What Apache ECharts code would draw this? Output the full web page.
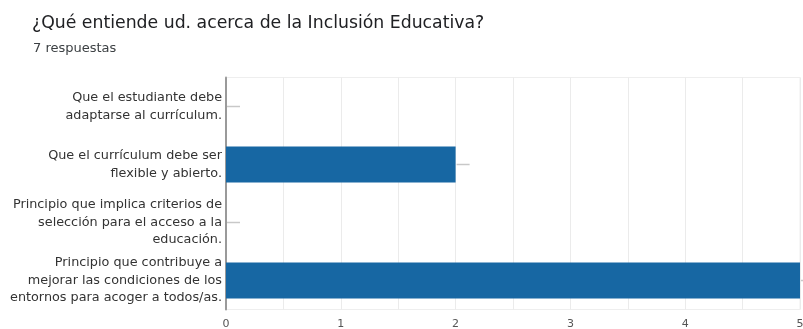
<!DOCTYPE html>
<html>
<head>
<meta charset="utf-8">
<script src="https://cdn.jsdelivr.net/npm/echarts@6/dist/echarts.min.js"></script>
<style>
  html, body { margin: 0; padding: 0; background: #ffffff; }
  #chart { width: 803px; height: 329px; }
</style>
</head>
<body>
<div id="chart"></div>
<script>
// Survey question and answer options (top to bottom as shown)
const questionTitle = '¿Qué entiende ud. acerca de la Inclusión Educativa?';
const responseCount = '7 respuestas';
const categories = [
  'Que el estudiante debe\nadaptarse al currículum.',
  'Que el currículum debe ser\nflexible y abierto.',
  'Principio que implica criterios de\nselección para el acceso a la\neducación.',
  'Principio que contribuye a\nmejorar las condiciones de los\nentornos para acoger a todos/as.'
];
const counts = [0, 2, 0, 5];
const axisMax = 5;

const chart = echarts.init(document.getElementById('chart'), null, { renderer: 'canvas' });

chart.setOption({
  animation: false,
  backgroundColor: '#ffffff',
  title: [
    {
      text: questionTitle,
      left: 27, top: 10,
      textStyle: { fontFamily: 'DejaVu Sans', fontSize: 17.3, fontWeight: 'normal', color: '#202124' }
    },
    {
      text: responseCount,
      left: 28, top: 37,
      textStyle: { fontFamily: 'DejaVu Sans', fontSize: 13, fontWeight: 'normal', color: '#3c4043' }
    }
  ],
  grid: {
    left: 226, right: 3, top: 77.5, bottom: 19.5,
    outerBoundsMode: 'none',
    show: true, borderColor: '#eeeeee', borderWidth: 1
  },
  xAxis: {
    type: 'value',
    min: 0, max: axisMax, interval: 1,
    axisLine: { show: false },
    axisTick: { show: false },
    axisLabel: { fontFamily: 'DejaVu Sans', fontSize: 11, color: '#555555', margin: 9 },
    splitLine: { show: true, lineStyle: { color: '#ebebeb', width: 1 } },
    minorTick: { show: false, splitNumber: 2 },
    minorSplitLine: { show: true, lineStyle: { color: '#ebebeb', width: 1 } }
  },
  yAxis: {
    type: 'category',
    data: categories,
    inverse: true,
    axisLine: { show: true, lineStyle: { color: '#9a9a9a', width: 2 } },
    axisTick: { show: false },
    axisLabel: {
      fontFamily: 'DejaVu Sans', fontSize: 12.8, color: '#333333',
      lineHeight: 17.5, margin: 4, align: 'right'
    },
    splitLine: { show: false }
  },
  series: [
    {
      type: 'bar',
      data: counts,
      barWidth: 36,
      itemStyle: { color: '#1767a3' },
      z: 2
    },
    {
      // short grey leader at the end of each bar
      type: 'custom',
      data: counts.map((v, i) => [v, i]),
      encode: { x: 0, y: 1 },
      renderItem: function (params, api) {
        const p = api.coord([api.value(0), api.value(1)]);
        return {
          type: 'line',
          shape: { x1: p[0] + 1, y1: p[1], x2: p[0] + 14, y2: p[1] },
          style: { stroke: '#c8c8c8', lineWidth: 1.5 }
        };
      },
      clip: false,
      silent: true,
      z: 3
    }
  ]
});
</script>
</body>
</html>
